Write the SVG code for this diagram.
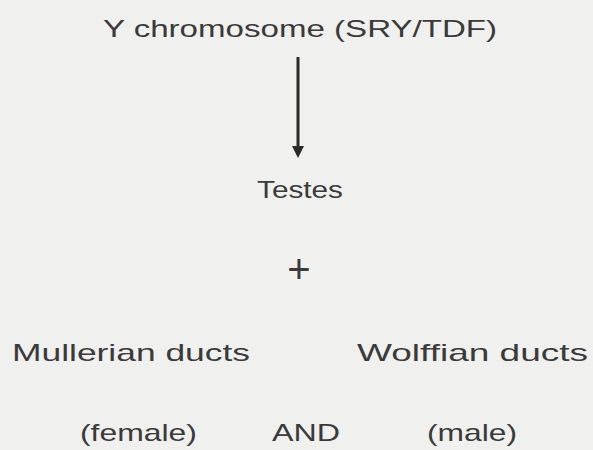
<svg xmlns="http://www.w3.org/2000/svg" width="593" height="450" viewBox="0 0 593 450">
<defs>
<style>
.t{font-family:"Liberation Sans","DejaVu Sans",sans-serif;font-size:24px;fill:#3a3a3a;}
.c{stroke:#2a2a2a;stroke-width:3;fill:none;}
</style>
<marker id="ah" markerWidth="4" markerHeight="4" refX="2" refY="2" orient="auto" markerUnits="strokeWidth">
<path d="M0,0 L4,2 L0,4 Z" fill="#2a2a2a"/>
</marker>
</defs>
<rect width="593" height="450" fill="#f0f0ee"/>
<g id="connectors">
<line class="c" x1="298" y1="57" x2="298" y2="152" marker-end="url(#ah)"/>
</g>
<g id="ychrom"><text class="t" x="300" y="37" text-anchor="middle" textLength="394" lengthAdjust="spacingAndGlyphs">Y chromosome (SRY/TDF)</text></g>
<g id="testes"><text class="t" x="300" y="198" text-anchor="middle" textLength="86" lengthAdjust="spacingAndGlyphs">Testes</text></g>
<g id="plus"><text class="t" x="299" y="283" text-anchor="middle" style="font-size:40px">+</text></g>
<g id="mullerian"><text class="t" x="12" y="361" textLength="238" lengthAdjust="spacingAndGlyphs">Mullerian ducts</text></g>
<g id="wolffian"><text class="t" x="357" y="361" textLength="231" lengthAdjust="spacingAndGlyphs">Wolffian ducts</text></g>
<g id="female"><text class="t" x="80" y="441" textLength="117" lengthAdjust="spacingAndGlyphs">(female)</text></g>
<g id="and"><text class="t" x="272" y="441" textLength="68" lengthAdjust="spacingAndGlyphs">AND</text></g>
<g id="male"><text class="t" x="427" y="441" textLength="90" lengthAdjust="spacingAndGlyphs">(male)</text></g>
</svg>
